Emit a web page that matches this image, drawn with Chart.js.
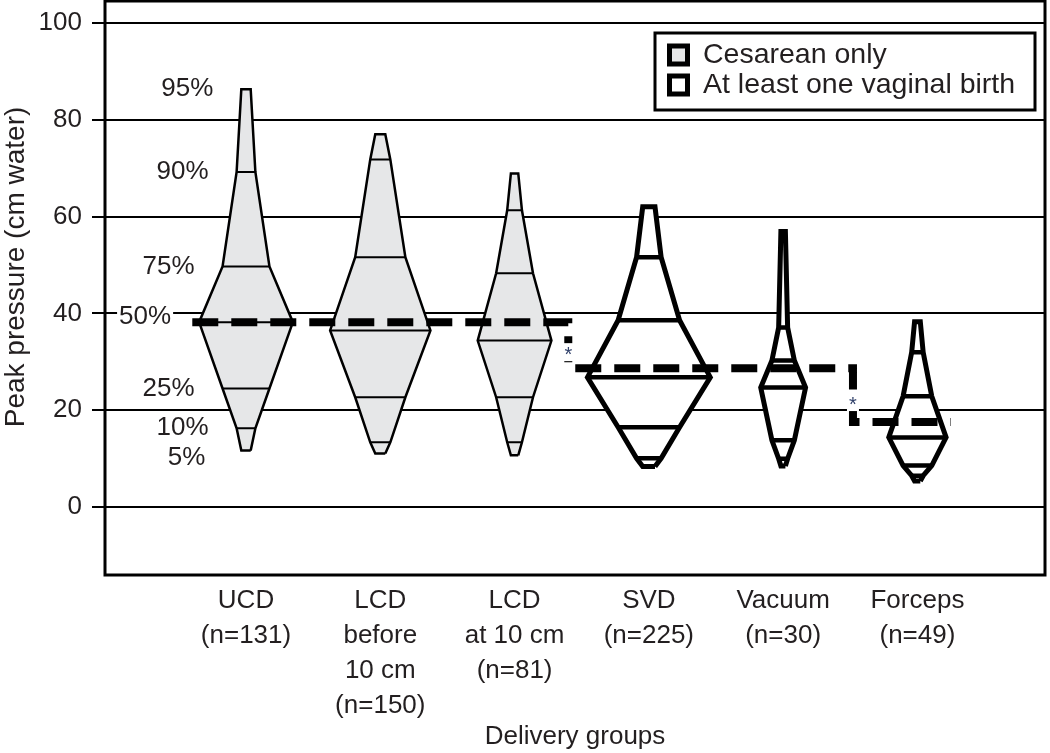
<!DOCTYPE html>
<html>
<head>
<meta charset="utf-8">
<script src="https://cdn.jsdelivr.net/npm/chart.js@4.4.0/dist/chart.umd.min.js"></script>
<style>
    html, body { margin: 0; padding: 0; background: #fff; }
    #wrap { width: 1050px; height: 753px; }
</style>
</head>
<body>
<div id="wrap"><canvas id="chart" width="1050" height="753"></canvas></div>
<script>
// Delivery groups along the x axis
const groupLabels = [
    ['UCD', '(n=131)'],
    ['LCD', 'before', '10 cm', '(n=150)'],
    ['LCD', 'at 10 cm', '(n=81)'],
    ['SVD', '(n=225)'],
    ['Vacuum', '(n=30)'],
    ['Forceps', '(n=49)']
];
const groupN = [131, 150, 81, 225, 30, 49];
const groupKind = ['cesarean', 'cesarean', 'cesarean', 'vaginal', 'vaginal', 'vaginal'];

// Peak pressure (cm water) at each percentile
const percentiles = [5, 10, 25, 50, 75, 90, 95];
const ucd       = [11.7, 16.3, 24.5, 38.2, 49.7, 69.2, 86.3];
const lcdBefore = [11.1, 13.4, 22.7, 36.5, 51.6, 71.8, 77.0];
const lcdAt10   = [10.7, 13.4, 22.7, 34.4, 48.3, 61.3, 68.9];
const svd       = [8.4, 10.1, 16.5, 26.8, 38.6, 51.6, 62.0];
const vacuum    = [8.5, 10.0, 13.8, 24.7, 30.3, 37.1, 56.9];
const forceps   = [5.4, 6.5, 8.6, 14.4, 22.9, 32.0, 38.3];
const groupValues = [ucd, lcdBefore, lcdAt10, svd, vacuum, forceps];

// Stepped dashed median line (x in group units)
const stepX = [0.6, 3.4, 5.52, 6.25];
const stepY = [38.2, 28.7, 17.6];

const yTicks = [0, 20, 40, 60, 80, 100];
const legendLabels = ['Cesarean only', 'At least one vaginal birth'];

const textColor = '#231f20';
const fontFamily = "'Liberation Sans', Arial, Helvetica, sans-serif";
const cesareanFill = '#e6e7e8';

Chart.defaults.font.family = fontFamily;
Chart.defaults.color = textColor;

// diamond half-width grows with sqrt(n) and with the percentile rank
function halfWidth(n, p) {
    return 0.0305 * Math.sqrt(n) * Math.min(p, 100 - p) / 50;
}

function diamondPoints(g) {
    const c = g + 1;
    const vals = groupValues[g];
    const pts = [];
    percentiles.forEach((p, i) => pts.push({ x: c + halfWidth(groupN[g], p), y: vals[i] }));
    for (let i = percentiles.length - 1; i >= 0; i--) {
        pts.push({ x: c - halfWidth(groupN[g], percentiles[i]), y: vals[i] });
    }
    pts.push(pts[0]);
    return pts;
}

function cutPoints(g) {
    const c = g + 1;
    const vals = groupValues[g];
    const pts = [];
    for (let i = 1; i < percentiles.length - 1; i++) {
        const w = halfWidth(groupN[g], percentiles[i]);
        pts.push({ x: c - w, y: vals[i] }, { x: c + w, y: vals[i] }, { x: c, y: null });
    }
    return pts;
}

function stepPoints() {
    const pts = [];
    stepY.forEach((v, i) => {
        pts.push({ x: stepX[i], y: v }, { x: stepX[i + 1], y: v });
    });
    return pts;
}

const datasets = [{
    data: stepPoints(),
    showLine: true,
    borderColor: '#000',
    borderWidth: 8,
    borderDash: [26, 13],
    borderCapStyle: 'butt',
    borderJoinStyle: 'miter',
    pointRadius: 0,
    fill: false,
    order: 0
}];

groupValues.forEach((vals, g) => {
    const ces = groupKind[g] === 'cesarean';
    datasets.push({
        data: diamondPoints(g),
        showLine: true,
        fill: 'shape',
        backgroundColor: ces ? cesareanFill : '#fff',
        borderColor: '#000',
        borderWidth: ces ? 2.5 : 5,
        borderJoinStyle: 'miter',
        pointRadius: 0,
        order: 2
    });
    datasets.push({
        data: cutPoints(g),
        showLine: true,
        fill: false,
        borderColor: '#000',
        borderWidth: ces ? 2 : 4.5,
        pointRadius: 0,
        spanGaps: false,
        order: 1
    });
});

const decorPlugin = {
    id: 'decor',
    afterDraw(chart) {
        const { ctx, chartArea: a } = chart;
        const xs = chart.scales.x;
        const ys = chart.scales.y;
        ctx.save();

        // percentile labels beside the first diamond
        ctx.font = '26px ' + fontFamily;
        ctx.textBaseline = 'middle';
        ctx.textAlign = 'right';
        const nudge = { 50: [0, -5], 5: [-8, 7] };
        percentiles.forEach((p, i) => {
            const d = nudge[p] || [0, 0];
            const rx = xs.getPixelForValue(1 - halfWidth(groupN[0], p)) - 28 + d[0];
            const py = ys.getPixelForValue(ucd[i]) + d[1];
            const label = p + '%';
            const w = ctx.measureText(label).width;
            ctx.fillStyle = '#fff';
            ctx.fillRect(rx - w - 2, py - 11, w + 4, 22);
            ctx.fillStyle = textColor;
            ctx.fillText(label, rx, py);
        });

        // asterisks at the steps, sitting in a gap of the vertical dash
        ctx.font = '20px ' + fontFamily;
        ctx.textAlign = 'center';
        for (let i = 1; i < stepX.length - 1; i++) {
            const top = ys.getPixelForValue(stepY[i - 1]);
            const bottom = ys.getPixelForValue(stepY[i]);
            const sx = xs.getPixelForValue(stepX[i]);
            const sy = (top + bottom) / 2 + 7;
            ctx.fillStyle = '#fff';
            ctx.fillRect(sx - 6, sy - 9, 12, 18);
            ctx.fillStyle = '#30406a';
            ctx.fillText('*', sx, sy + 3);
        }

        // plot frame
        ctx.strokeStyle = '#000';
        ctx.lineWidth = 3;
        ctx.strokeRect(a.left, a.top, a.right - a.left, a.bottom - a.top);

        // legend
        ctx.lineWidth = 3;
        ctx.fillStyle = '#fff';
        ctx.fillRect(655, 33, 380, 77);
        ctx.strokeRect(655, 33, 380, 77);
        ctx.font = '28.5px ' + fontFamily;
        ctx.textAlign = 'left';
        legendLabels.forEach((txt, i) => {
            const cy = 55 + i * 30;
            ctx.fillStyle = i === 0 ? cesareanFill : '#fff';
            ctx.fillRect(669.5, cy - 9, 18, 18);
            ctx.lineWidth = 5;
            ctx.strokeStyle = '#000';
            ctx.strokeRect(669.5, cy - 9, 18, 18);
            ctx.fillStyle = textColor;
            ctx.fillText(txt, 703, cy);
        });

        // axis titles
        ctx.font = '26px ' + fontFamily;
        ctx.textAlign = 'center';
        ctx.fillText('Delivery groups', (a.left + a.right) / 2, 737);
        ctx.save();
        ctx.font = '28px ' + fontFamily;
        ctx.translate(16, (ys.getPixelForValue(0) + ys.getPixelForValue(100)) / 2 + 2);
        ctx.rotate(-Math.PI / 2);
        ctx.fillText('Peak pressure (cm water)', 0, 0);
        ctx.restore();

        ctx.restore();
    }
};

function clearPadding(s) {
    s.paddingTop = 0;
    s.paddingBottom = 0;
    s.paddingLeft = 0;
    s.paddingRight = 0;
}

new Chart(document.getElementById('chart'), {
    type: 'scatter',
    data: { datasets: datasets },
    options: {
        responsive: false,
        animation: false,
        layout: { padding: { top: 1, right: 5, left: 0, bottom: 0 } },
        plugins: {
            legend: { display: false },
            tooltip: { enabled: false }
        },
        scales: {
            x: {
                type: 'linear',
                min: -0.05,
                max: 6.95,
                grid: { display: false, drawTicks: false },
                border: { display: false },
                afterBuildTicks: s => { s.ticks = groupLabels.map((l, i) => ({ value: i + 1 })); },
                afterFit: s => { s.height = 178; clearPadding(s); },
                ticks: {
                    autoSkip: false,
                    maxRotation: 0,
                    padding: 8,
                    color: textColor,
                    font: { size: 26, lineHeight: 1.35 },
                    callback: (v, i) => groupLabels[i]
                }
            },
            y: {
                min: -14,
                max: 104.5,
                afterBuildTicks: s => { s.ticks = yTicks.map(v => ({ value: v })); },
                afterFit: s => { s.width = 105; clearPadding(s); },
                grid: { color: '#000', lineWidth: 2, tickLength: 13, tickColor: '#000', tickWidth: 2 },
                border: { display: false },
                ticks: { padding: 10, color: textColor, font: { size: 26 } }
            }
        }
    },
    plugins: [decorPlugin]
});
</script>
</body>
</html>
